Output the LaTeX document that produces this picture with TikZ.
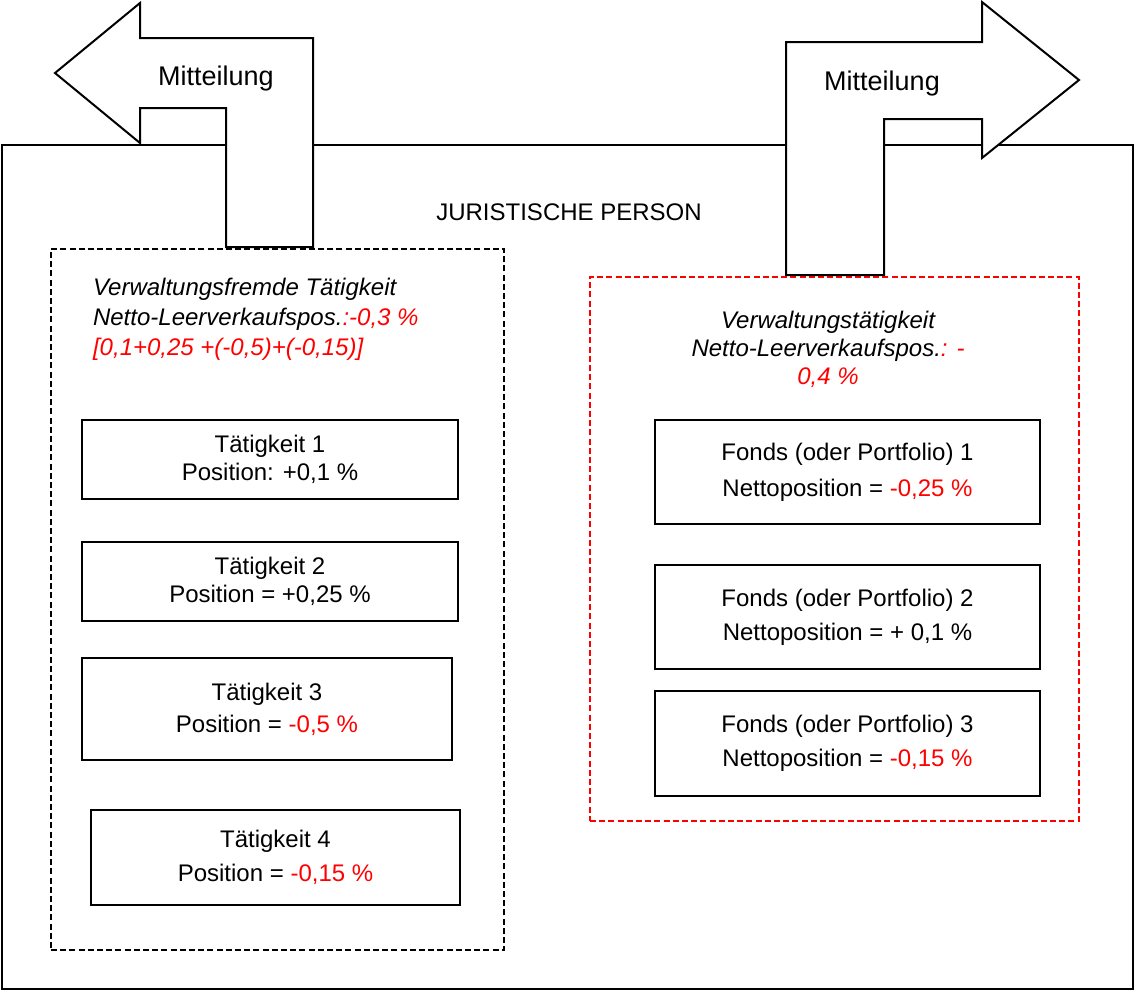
\documentclass[tikz,border=0pt]{standalone}
\usepackage{fontspec}
\setmainfont{Liberation Sans}
\usetikzlibrary{fit}
\begin{document}
\begin{tikzpicture}[x=0.5pt,y=-0.5pt,
  txt/.style={font=\fontsize{12}{14}\selectfont, align=center},
  card/.style={draw, line width=0.75pt, txt, inner sep=0pt},
  group/.style={draw, line width=1.4pt, dash pattern=on 3pt off 1.6pt, inner sep=0pt},
  notearrow/.style={draw, fill=white, line width=1pt, line join=miter},
  heading/.style={font=\fontsize{12}{15}\selectfont\itshape}]
\useasboundingbox (0,0) rectangle (1135,991);

% legal entity frame
\node[draw, line width=0.75pt, inner sep=0pt, fit={(2,145) (1133,989)}] (entity) {};
\node[txt] (entitylabel) at (569,212) {JURISTISCHE PERSON};

% the two activity groups
\node[group, fit={(51,249) (504,950)}] (nonmgmt) {};
\node[group, draw=red, fit={(590,277) (1079,821)}] (mgmt) {};

% notification arrows
\draw[notearrow] (55,73) -- (140,3) -- (140,38) -- (313,38) -- (313,247)
  -- (226,247) -- (226,108) -- (140,108) -- (140,143) -- cycle;
\node[txt, font=\fontsize{13.5}{15}\selectfont] (msgleft) at (216,79) {Mitteilung};

\draw[notearrow] (786,275) -- (786,42) -- (982,42) -- (982,2) -- (1079,80)
  -- (982,158) -- (982,119) -- (884,119) -- (884,275) -- cycle;
\node[txt, font=\fontsize{13.5}{15}\selectfont] (msgright) at (882,84) {Mitteilung};

% group headings
\node[heading, align=left, anchor=west] (nonmgmthead) at (86,319)
  {Verwaltungsfremde Tätigkeit\\
   Netto-Leerverkaufspos.\textcolor{red}{:-0,3 \%}\\
   \textcolor{red}{[0,1+0,25 +(-0,5)+(-0,15)]}};
\node[heading, align=center, font=\fontsize{12}{14}\selectfont\itshape] (mgmthead) at (828,349)
  {Verwaltungstätigkeit\\
   Netto-Leerverkaufspos.\textcolor{red}{: -}\\
   \textcolor{red}{0,4 \%}};

% activities
\node[card, minimum width=188pt, minimum height=39.5pt] (t1) at (270,459.5)
  {Tätigkeit 1\\ Position: +0,1 \%};
\node[card, minimum width=188pt, minimum height=39.5pt] (t2) at (270,581.5)
  {Tätigkeit 2\\ Position = +0,25 \%};
\node[card, minimum width=185pt, minimum height=51pt] (t3) at (267,709)
  {Tätigkeit 3\\[2pt] Position = \textcolor{red}{-0,5 \%}};
\node[card, minimum width=184.5pt, minimum height=47.5pt] (t4) at (275.5,857.5)
  {Tätigkeit 4\\[3pt] Position = \textcolor{red}{-0,15 \%}};

% funds
\node[card, minimum width=192.5pt, minimum height=52pt] (f1) at (847.5,472)
  {Fonds (oder Portfolio) 1\\[4pt] Nettoposition = \textcolor{red}{-0,25 \%}};
\node[card, minimum width=192.5pt, minimum height=52pt] (f2) at (847.5,617)
  {Fonds (oder Portfolio) 2\\[3pt] Nettoposition = + 0,1 \%};
\node[card, minimum width=192.5pt, minimum height=52.5pt] (f3) at (847.5,743.5)
  {Fonds (oder Portfolio) 3\\[3pt] Nettoposition = \textcolor{red}{-0,15 \%}};
\end{tikzpicture}
\end{document}
